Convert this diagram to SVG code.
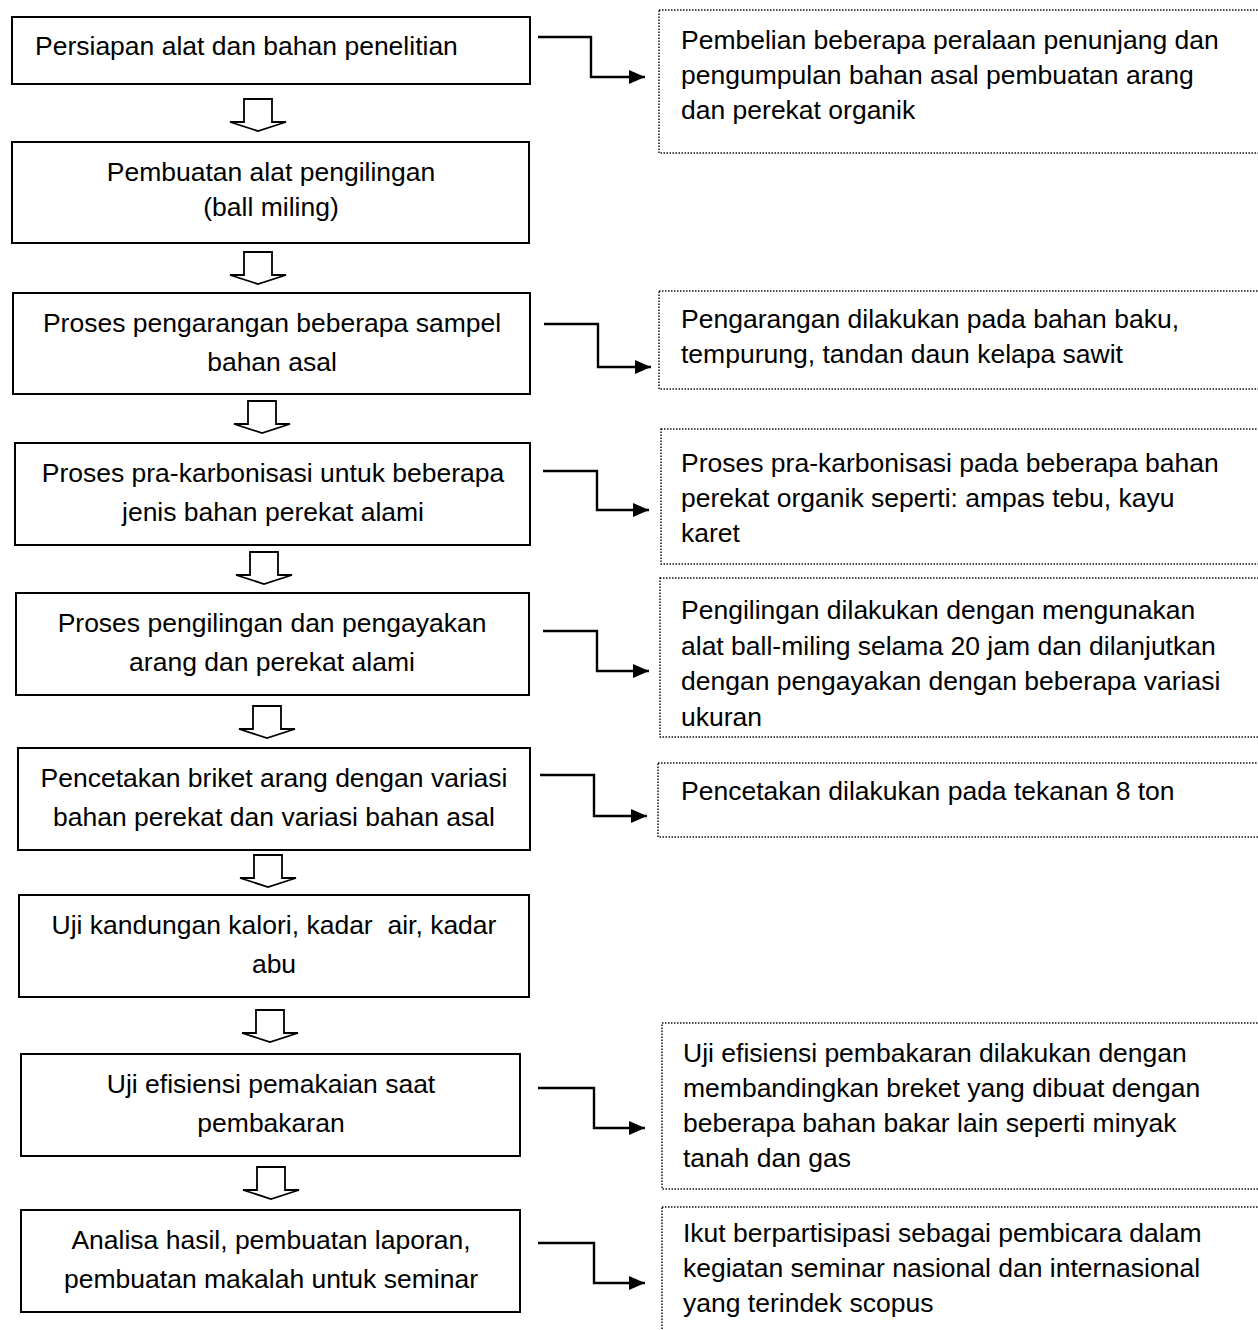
<svg xmlns="http://www.w3.org/2000/svg" width="1258" height="1330" viewBox="0 0 1258 1330">
<style>
text{font-family:"Liberation Sans",Arial,sans-serif;font-size:26.5px;fill:#000;white-space:pre}
.c{text-anchor:middle}
.box{fill:#fff;stroke:#000;stroke-width:2}
.note{fill:#fff;stroke:#111;stroke-width:1.5;stroke-dasharray:1.5 1.5}
.conn{fill:none;stroke:#000;stroke-width:2.4}
.hollow{fill:#fff;stroke:#000;stroke-width:1.8;stroke-linejoin:miter}
</style>
<defs>
<marker id="ah" markerUnits="userSpaceOnUse" markerWidth="18" markerHeight="16" refX="16" refY="7" orient="auto">
<path d="M0,0 L16,7 L0,14 Z" fill="#000"/>
</marker>
<path id="down" class="hollow" d="M-14,0 H14 V23 H28 L0,32 L-28,23 H-14 Z"/>
</defs>
<rect width="1258" height="1330" fill="#fff"/>

<g id="n1"><rect class="box" x="12" y="17" width="518" height="67"/><text x="35" y="55">Persiapan alat dan bahan penelitian</text></g>
<g id="n2"><rect class="box" x="12" y="142" width="517" height="101"/><text class="c" x="271" y="181">Pembuatan alat pengilingan</text><text class="c" x="271" y="216">(ball miling)</text></g>
<g id="n3"><rect class="box" x="13" y="293" width="517" height="101"/><text class="c" x="272" y="332">Proses pengarangan beberapa sampel</text><text class="c" x="272" y="371">bahan asal</text></g>
<g id="n4"><rect class="box" x="15" y="443" width="515" height="102"/><text class="c" x="273" y="482">Proses pra-karbonisasi untuk beberapa</text><text class="c" x="273" y="521">jenis bahan perekat alami</text></g>
<g id="n5"><rect class="box" x="16" y="593" width="513" height="102"/><text class="c" x="272" y="632">Proses pengilingan dan pengayakan</text><text class="c" x="272" y="671">arang dan perekat alami</text></g>
<g id="n6"><rect class="box" x="18" y="748" width="512" height="102"/><text class="c" x="274" y="787">Pencetakan briket arang dengan variasi</text><text class="c" x="274" y="826">bahan perekat dan variasi bahan asal</text></g>
<g id="n7"><rect class="box" x="19" y="895" width="510" height="102"/><text class="c" x="274" y="934">Uji kandungan kalori, kadar  air, kadar</text><text class="c" x="274" y="973">abu</text></g>
<g id="n8"><rect class="box" x="21" y="1054" width="499" height="102"/><text class="c" x="271" y="1093">Uji efisiensi pemakaian saat</text><text class="c" x="271" y="1132">pembakaran</text></g>
<g id="n9"><rect class="box" x="21" y="1210" width="499" height="102"/><text class="c" x="271" y="1249">Analisa hasil, pembuatan laporan,</text><text class="c" x="271" y="1288">pembuatan makalah untuk seminar</text></g>

<g id="d1"><rect class="note" x="659" y="10" width="620" height="143"/><text x="681" y="49">Pembelian beberapa peralaan penunjang dan</text><text x="681" y="84">pengumpulan bahan asal pembuatan arang</text><text x="681" y="119">dan perekat organik</text></g>
<g id="d2"><rect class="note" x="659" y="291" width="620" height="98"/><text x="681" y="328">Pengarangan dilakukan pada bahan baku,</text><text x="681" y="363">tempurung, tandan daun kelapa sawit</text></g>
<g id="d3"><rect class="note" x="661" y="429" width="620" height="135"/><text x="681" y="472">Proses pra-karbonisasi pada beberapa bahan</text><text x="681" y="507">perekat organik seperti: ampas tebu, kayu</text><text x="681" y="542">karet</text></g>
<g id="d4"><rect class="note" x="660" y="578" width="620" height="159"/><text x="681" y="619">Pengilingan dilakukan dengan mengunakan</text><text x="681" y="655">alat ball-miling selama 20 jam dan dilanjutkan</text><text x="681" y="690">dengan pengayakan dengan beberapa variasi</text><text x="681" y="726">ukuran</text></g>
<g id="d5"><rect class="note" x="658" y="763" width="620" height="74"/><text x="681" y="800">Pencetakan dilakukan pada tekanan 8 ton</text></g>
<g id="d6"><rect class="note" x="662" y="1023" width="620" height="166"/><text x="683" y="1062">Uji efisiensi pembakaran dilakukan dengan</text><text x="683" y="1097">membandingkan breket yang dibuat dengan</text><text x="683" y="1132">beberapa bahan bakar lain seperti minyak</text><text x="683" y="1167">tanah dan gas</text></g>
<g id="d7"><rect class="note" x="662" y="1207" width="620" height="140"/><text x="683" y="1242">Ikut berpartisipasi sebagai pembicara dalam</text><text x="683" y="1277">kegiatan seminar nasional dan internasional</text><text x="683" y="1312">yang terindek scopus</text></g>

<g id="connectors">
<use href="#down" x="258" y="99"/>
<use href="#down" x="258" y="252"/>
<use href="#down" x="262" y="401"/>
<use href="#down" x="264" y="552"/>
<use href="#down" x="267" y="706"/>
<use href="#down" x="268" y="855"/>
<use href="#down" x="270" y="1010"/>
<use href="#down" x="271" y="1167"/>
<path class="conn" marker-end="url(#ah)" d="M538,37 H591 V77 H645"/>
<path class="conn" marker-end="url(#ah)" d="M544,324 H598 V367 H651"/>
<path class="conn" marker-end="url(#ah)" d="M543,471 H597 V510 H649"/>
<path class="conn" marker-end="url(#ah)" d="M543,631 H597 V671 H649"/>
<path class="conn" marker-end="url(#ah)" d="M540,775 H594 V816 H647"/>
<path class="conn" marker-end="url(#ah)" d="M538,1088 H594 V1128 H645"/>
<path class="conn" marker-end="url(#ah)" d="M538,1243 H594 V1283 H645"/>
</g>
</svg>
